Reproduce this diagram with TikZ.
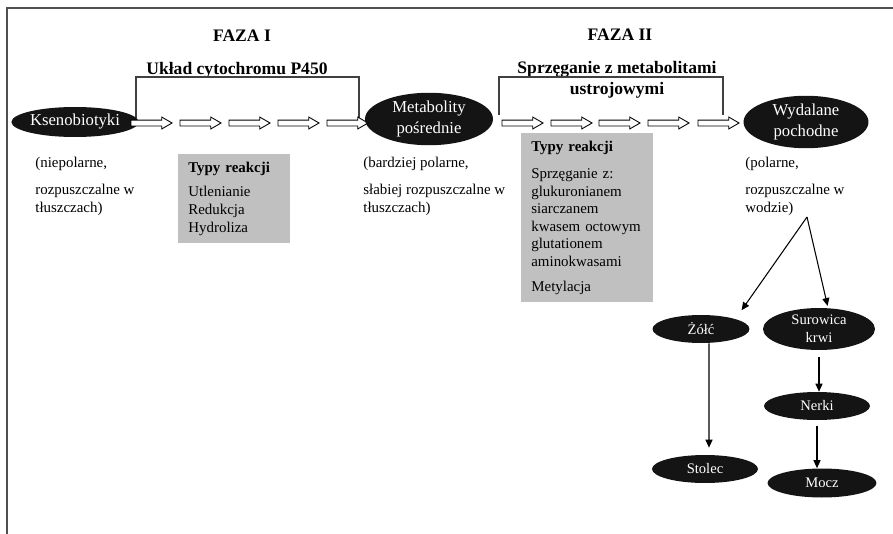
\documentclass[tikz,border=0pt]{standalone}
\usepackage{fontspec}
\setmainfont{Liberation Serif}
\usetikzlibrary{shapes.geometric, shapes.arrows, arrows.meta, positioning}
\definecolor{ovaldark}{RGB}{20,20,20}
\definecolor{boxgray}{RGB}{192,192,192}
\definecolor{framegray}{RGB}{80,80,80}

\tikzset{
  oval/.style={ellipse, fill=ovaldark, text=white, inner sep=0pt, align=center},
  bigoval/.style={oval, font=\fontsize{9.5}{12.5}\selectfont},
  smalloval/.style={oval, font=\fontsize{8.3}{10}\selectfont},
  hollow/.style={single arrow, draw=black, fill=white, line width=0.5pt,
    minimum height=0.82cm, minimum width=0.22cm, inner sep=0.05cm,
    single arrow head extend=0.06cm, single arrow tip angle=60},
  typbox/.style={rectangle, fill=boxgray, anchor=north west, align=left,
    inner xsep=0.2cm, inner ysep=0pt, font=\fontsize{8.5}{10}\selectfont},
  opis/.style={anchor=north west, align=left, inner sep=0pt, font=\fontsize{8.5}{10}\selectfont},
  faza/.style={font=\fontsize{10}{12}\selectfont\bfseries, align=center},
  klamra/.style={draw=black!75, line width=0.6pt},
  link/.style={-{Triangle[length=4.5pt,width=4pt]}, line width=0.6pt},
}

\begin{document}
\begin{tikzpicture}[x=0.02cm, y=-0.02cm]
\useasboundingbox (0,0) rectangle (893,534);

% Frame
\draw[framegray, line width=1pt] (7,534) -- (7,8) -- (893,8);

% Phase I
\node[faza] (faza1) at (242,36) {FAZA I};
\node[faza] (cyto) at (237,70) {Układ cytochromu P450};
\draw[klamra] (136,118) |- (359,77) -- (359,118);

\node[bigoval, minimum width=2.1cm, minimum height=0.6cm] (kseno) at (75,122) {Ksenobiotyki};
\foreach \x [count=\i] in {149,198,247,296,345}
  \node[hollow] (fa\i) at (\x,123) {};
\node[bigoval, minimum width=2.56cm, minimum height=0.96cm] (metab) at (429,119) {Metabolity\\pośrednie};

\node[opis] (kopis) at (35,157) {(niepolarne,\\[5.5pt]rozpuszczalne w\\tłuszczach)};
\node[typbox, text width=1.84cm, minimum height=1.78cm] (typy1) at (178,154)
  {\textbf{Typy reakcji}\\[3.7pt]Utlenianie\\Redukcja\\Hydroliza};
\node[opis] (mopis) at (363,157) {(bardziej polarne,\\[5.5pt]słabiej rozpuszczalne w\\tłuszczach)};

% Phase II
\node[faza] (faza2) at (620,35) {FAZA II};
\node[faza] (sprz) at (617,80) {Sprzęganie z metabolitami\\ustrojowymi};
\draw[klamra] (499,115) |- (723,77) -- (723,115);

\foreach \x [count=\i] in {520,569,617,666,716}
  \node[hollow] (fb\i) at (\x,123) {};
\node[bigoval, minimum width=2.5cm, minimum height=0.98cm] (wydal) at (806,122) {Wydalane\\pochodne};

\node[typbox, text width=2.24cm, minimum height=3.38cm] (typy2) at (521,133)
  {\textbf{Typy reakcji}\\[5.4pt]Sprzęganie z:\\glukuronianem\\siarczanem\\kwasem octowym\\glutationem\\aminokwasami\\[4pt]Metylacja};
\node[opis] (wopis) at (745,157) {(polarne,\\[5.5pt]rozpuszczalne w\\wodzie)};

% Excretion routes
\node[smalloval, minimum width=1.94cm, minimum height=0.56cm] (zolc) at (701,329) {Żółć};
\node[smalloval, minimum width=2.24cm, minimum height=0.84cm] (surow) at (819,329) {Surowica\\krwi};
\node[smalloval, minimum width=2.12cm, minimum height=0.56cm] (nerki) at (817,406) {Nerki};
\node[smalloval, minimum width=2.12cm, minimum height=0.56cm] (stolec) at (705,469) {Stolec};
\node[smalloval, minimum width=2.18cm, minimum height=0.58cm] (mocz) at (822,483) {Mocz};

\coordinate (rozw) at (807,217);
\draw[link, shorten >=6pt] (rozw) -- (zolc.north east);
\draw[link, shorten >=1pt] (rozw) -- ([xshift=0.18cm]surow.north);
\draw[link, shorten >=4pt] ([xshift=0.16cm]zolc.south) -- ([xshift=0.08cm]stolec.north);
\draw[link, shorten <=4pt] (surow.south) -- (surow.south |- nerki.north);
\draw[link, shorten <=3pt] (nerki.south) -- (nerki.south |- mocz.north);
\end{tikzpicture}
\end{document}
